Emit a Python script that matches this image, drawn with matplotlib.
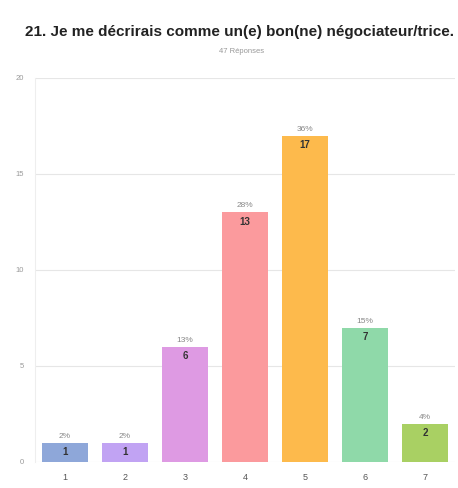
import matplotlib.pyplot as plt

plt.rcParams['font.family'] = ['Liberation Sans', 'DejaVu Sans']

# Daten
categories = ['1', '2', '3', '4', '5', '6', '7']
counts = [1, 1, 6, 13, 17, 7, 2]
percents = ['2%', '2%', '13%', '28%', '36%', '15%', '4%']
bar_colors = ['#8ea7d9', '#c1a3f3', '#de9ae3', '#fb9a9d', '#fdba4c', '#8fd9a9', '#a9d063']
y_ticks = [0, 5, 10, 15, 20]

fig = plt.figure(figsize=(4.58, 4.88), dpi=100)
ax = fig.add_axes([0.0764, 0.0533, 0.917, 0.787])

x = range(len(categories))
bars = ax.bar(x, counts, width=0.77, color=bar_colors, zorder=2)

for b, c, p in zip(bars, counts, percents):
    cx = b.get_x() + b.get_width() / 2
    ax.text(cx, c - 0.22, str(c), ha='center', va='top', fontsize=7,
            fontweight='bold', color='#333333', zorder=3)
    ax.text(cx, c + 0.15, p, ha='center', va='bottom', fontsize=6,
            color='#888888', zorder=3)

ax.set_xlim(-0.5, 6.5)
ax.set_ylim(0, 20)
ax.set_xticks(list(x))
ax.set_xticklabels(categories, fontsize=6.5, color='#555555')
ax.set_yticks(y_ticks)
ax.set_yticklabels([str(t) for t in y_ticks], fontsize=5.5, color='#999999')
ax.tick_params(axis='x', length=0, pad=8)
ax.tick_params(axis='y', length=0, pad=8)

ax.grid(axis='y', color='#e6e6e6', linewidth=0.8, zorder=0)
for s in ['top', 'right', 'bottom']:
    ax.spines[s].set_visible(False)
ax.spines['left'].set_color('#eeeeee')
ax.spines['left'].set_linewidth(0.8)

fig.text(0.522, 0.934, '21. Je me décrirais comme un(e) bon(ne) négociateur/trice.',
         ha='center', va='center', fontsize=11, fontweight='bold', color='#222222')
fig.text(0.528, 0.895, '47 Réponses', ha='center', va='center', fontsize=5.5, color='#999999')

fig.savefig('out.png', dpi=100)
